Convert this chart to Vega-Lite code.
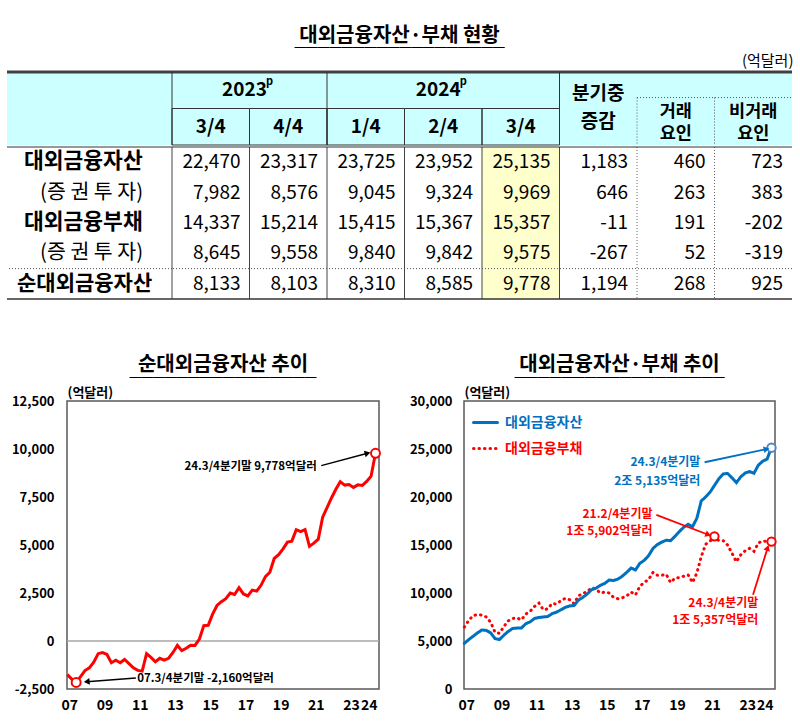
{
"$schema":"https://vega.github.io/schema/vega-lite/v6.json",
"background":"white",
"padding":{"left":5,"right":5,"top":26,"bottom":5},
"config":{"font":"Noto Sans CJK KR","view":{"stroke":null},"locale":{"number":{"decimal":".","thousands":",","grouping":[3],"currency":["$",""],"minus":"-"}}},
"title":{"text":"대외금융자산·부채 현황","subtitle":"‾‾‾‾‾‾‾‾‾‾‾‾‾‾‾‾‾‾","fontSize":20,"fontWeight":"bold","color":"black","subtitleFont":"DejaVu Sans Mono","subtitleFontSize":19.4,"subtitleColor":"black","subtitlePadding":1,"anchor":"middle","offset":-12},
"resolve":{"scale":{"color":"independent","strokeDash":"independent"},"legend":{"color":"independent","strokeDash":"independent"}},
"datasets":{
"cols":[{"c":"23.3/4"},{"c":"23.4/4"},{"c":"24.1/4"},{"c":"24.2/4"},{"c":"24.3/4"},{"c":"증감"},{"c":"거래"},{"c":"비거래"}],
"quarters":[{"c":"23.3/4","q":"3/4"},{"c":"23.4/4","q":"4/4"},{"c":"24.1/4","q":"1/4"},{"c":"24.2/4","q":"2/4"},{"c":"24.3/4","q":"3/4"}],
"labels":[{"r":"자산","label":"대외금융자산"},{"r":"자산증권","label":"(증 권 투 자)"},{"r":"부채","label":"대외금융부채"},{"r":"부채증권","label":"(증 권 투 자)"},{"r":"순자산","label":"순대외금융자산"}],
"cells":[
{"r":"자산","c":"23.3/4","v":22470},{"r":"자산","c":"23.4/4","v":23317},{"r":"자산","c":"24.1/4","v":23725},{"r":"자산","c":"24.2/4","v":23952},{"r":"자산","c":"24.3/4","v":25135},{"r":"자산","c":"증감","v":1183},{"r":"자산","c":"거래","v":460},{"r":"자산","c":"비거래","v":723},
{"r":"자산증권","c":"23.3/4","v":7982},{"r":"자산증권","c":"23.4/4","v":8576},{"r":"자산증권","c":"24.1/4","v":9045},{"r":"자산증권","c":"24.2/4","v":9324},{"r":"자산증권","c":"24.3/4","v":9969},{"r":"자산증권","c":"증감","v":646},{"r":"자산증권","c":"거래","v":263},{"r":"자산증권","c":"비거래","v":383},
{"r":"부채","c":"23.3/4","v":14337},{"r":"부채","c":"23.4/4","v":15214},{"r":"부채","c":"24.1/4","v":15415},{"r":"부채","c":"24.2/4","v":15367},{"r":"부채","c":"24.3/4","v":15357},{"r":"부채","c":"증감","v":-11},{"r":"부채","c":"거래","v":191},{"r":"부채","c":"비거래","v":-202},
{"r":"부채증권","c":"23.3/4","v":8645},{"r":"부채증권","c":"23.4/4","v":9558},{"r":"부채증권","c":"24.1/4","v":9840},{"r":"부채증권","c":"24.2/4","v":9842},{"r":"부채증권","c":"24.3/4","v":9575},{"r":"부채증권","c":"증감","v":-267},{"r":"부채증권","c":"거래","v":52},{"r":"부채증권","c":"비거래","v":-319},
{"r":"순자산","c":"23.3/4","v":8133},{"r":"순자산","c":"23.4/4","v":8103},{"r":"순자산","c":"24.1/4","v":8310},{"r":"순자산","c":"24.2/4","v":8585},{"r":"순자산","c":"24.3/4","v":9778},{"r":"순자산","c":"증감","v":1194},{"r":"순자산","c":"거래","v":268},{"r":"순자산","c":"비거래","v":925}],
"series":[
{"t":2007.00,"대외금융자산":4750,"대외금융부채":6450,"순대외금융자산":-1750},
{"t":2007.25,"대외금융자산":5150,"대외금융부채":7150,"순대외금융자산":-1980},
{"t":2007.50,"대외금융자산":5490,"대외금융부채":7650,"순대외금융자산":-2160},
{"t":2007.75,"대외금융자산":5850,"대외금융부채":7750,"순대외금융자산":-1850},
{"t":2008.00,"대외금융자산":6150,"대외금융부채":7700,"순대외금융자산":-1540},
{"t":2008.25,"대외금융자산":6100,"대외금융부채":7500,"순대외금융자산":-1400},
{"t":2008.50,"대외금융자산":5850,"대외금융부채":6950,"순대외금융자산":-1100},
{"t":2008.75,"대외금융자산":5250,"대외금융부채":5900,"순대외금융자산":-660},
{"t":2009.00,"대외금융자산":5150,"대외금융부채":5800,"순대외금융자산":-600},
{"t":2009.25,"대외금융자산":5600,"대외금융부채":6500,"순대외금융자산":-700},
{"t":2009.50,"대외금융자산":6000,"대외금융부채":7100,"순대외금융자산":-1130},
{"t":2009.75,"대외금융자산":6300,"대외금융부채":7350,"순대외금융자산":-1000},
{"t":2010.00,"대외금융자산":6350,"대외금융부채":7400,"순대외금융자산":-1130},
{"t":2010.25,"대외금융자산":6350,"대외금융부채":7200,"순대외금융자산":-960},
{"t":2010.50,"대외금융자산":6800,"대외금융부채":7800,"순대외금융자산":-1180},
{"t":2010.75,"대외금융자산":7000,"대외금융부채":8100,"순대외금융자산":-1400},
{"t":2011.00,"대외금융자산":7350,"대외금융부채":8600,"순대외금융자산":-1530},
{"t":2011.25,"대외금융자산":7450,"대외금융부채":8950,"순대외금융자산":-1570},
{"t":2011.50,"대외금융자산":7500,"대외금융부채":8250,"순대외금융자산":-660},
{"t":2011.75,"대외금융자산":7550,"대외금융부채":8350,"순대외금융자산":-850},
{"t":2012.00,"대외금융자산":7850,"대외금융부채":8900,"순대외금융자산":-1080},
{"t":2012.25,"대외금융자산":8000,"대외금융부채":8850,"순대외금융자산":-900},
{"t":2012.50,"대외금융자산":8250,"대외금융부채":9200,"순대외금융자산":-1000},
{"t":2012.75,"대외금융자산":8500,"대외금융부채":9450,"순대외금융자산":-900},
{"t":2013.00,"대외금융자산":8650,"대외금융부채":9300,"순대외금융자산":-600},
{"t":2013.25,"대외금융자산":8700,"대외금융부채":8900,"순대외금융자산":-230},
{"t":2013.50,"대외금융자산":9250,"대외금융부채":9700,"순대외금융자산":-500},
{"t":2013.75,"대외금융자산":9550,"대외금융부채":9950,"순대외금융자산":-380},
{"t":2014.00,"대외금융자산":9900,"대외금융부채":10150,"순대외금융자산":-220},
{"t":2014.25,"대외금융자산":10350,"대외금융부채":10550,"순대외금융자산":-230},
{"t":2014.50,"대외금융자산":10500,"대외금융부채":10400,"순대외금융자산":100},
{"t":2014.75,"대외금융자산":10800,"대외금융부채":10000,"순대외금융자산":800},
{"t":2015.00,"대외금융자산":11000,"대외금융부채":10100,"순대외금융자산":820},
{"t":2015.25,"대외금융자산":11350,"대외금융부채":10000,"순대외금융자산":1400},
{"t":2015.50,"대외금융자산":11300,"대외금융부채":9550,"순대외금융자산":1850},
{"t":2015.75,"대외금융자산":11450,"대외금융부채":9400,"순대외금융자산":2050},
{"t":2016.00,"대외금융자산":11750,"대외금융부채":9500,"순대외금융자산":2200},
{"t":2016.25,"대외금융자산":12150,"대외금융부채":9700,"순대외금융자산":2500},
{"t":2016.50,"대외금융자산":12600,"대외금융부채":10100,"순대외금융자산":2420},
{"t":2016.75,"대외금융자산":12400,"대외금융부채":9800,"순대외금융자산":2780},
{"t":2017.00,"대외금융자산":13100,"대외금융부채":10700,"순대외금융자산":2450},
{"t":2017.25,"대외금융자산":13400,"대외금융부채":11100,"순대외금융자산":2350},
{"t":2017.50,"대외금융자산":13900,"대외금융부채":11400,"순대외금융자산":2650},
{"t":2017.75,"대외금융자산":14650,"대외금융부채":12150,"순대외금융자산":2600},
{"t":2018.00,"대외금융자산":15050,"대외금융부채":11850,"순대외금융자산":2900},
{"t":2018.25,"대외금융자산":15300,"대외금융부채":11850,"순대외금융자산":3350},
{"t":2018.50,"대외금융자산":15500,"대외금융부채":11950,"순대외금융자산":3580},
{"t":2018.75,"대외금융자산":15450,"대외금융부채":11100,"순대외금융자산":4300},
{"t":2019.00,"대외금융자산":15900,"대외금융부채":11550,"순대외금융자산":4500},
{"t":2019.25,"대외금융자산":16400,"대외금융부채":11600,"순대외금융자산":4800},
{"t":2019.50,"대외금융자산":16850,"대외금융부채":11750,"순대외금융자산":5150},
{"t":2019.75,"대외금융자산":17150,"대외금융부채":11900,"순대외금융자산":5200},
{"t":2020.00,"대외금융자산":16900,"대외금융부채":11100,"순대외금융자산":5800},
{"t":2020.25,"대외금융자산":17800,"대외금융부채":12100,"순대외금융자산":5700},
{"t":2020.50,"대외금융자산":19600,"대외금융부채":13800,"순대외금융자산":5800},
{"t":2020.75,"대외금융자산":20000,"대외금융부채":15070,"순대외금융자산":4930},
{"t":2021.00,"대외금융자산":20500,"대외금융부채":15400,"순대외금융자산":5100},
{"t":2021.25,"대외금융자산":21200,"대외금융부채":15902,"순대외금융자산":5300},
{"t":2021.50,"대외금융자산":21900,"대외금융부채":15450,"순대외금융자산":6450},
{"t":2021.75,"대외금융자산":22400,"대외금융부채":15450,"순대외금융자산":6950},
{"t":2022.00,"대외금융자산":22450,"대외금융부채":15000,"순대외금융자산":7450},
{"t":2022.25,"대외금융자산":22000,"대외금융부채":14150,"순대외금융자산":7900},
{"t":2022.50,"대외금융자산":21500,"대외금융부채":13250,"순대외금융자산":8300},
{"t":2022.75,"대외금융자산":22100,"대외금융부채":13980,"순대외금융자산":8120},
{"t":2023.00,"대외금융자산":22500,"대외금융부채":14400,"순대외금융자산":8150},
{"t":2023.25,"대외금융자산":22650,"대외금융부채":14650,"순대외금융자산":8000},
{"t":2023.50,"대외금융자산":22470,"대외금융부채":14337,"순대외금융자산":8133},
{"t":2023.75,"대외금융자산":23317,"대외금융부채":15214,"순대외금융자산":8103},
{"t":2024.00,"대외금융자산":23725,"대외금융부채":15415,"순대외금융자산":8310},
{"t":2024.25,"대외금융자산":23952,"대외금융부채":15367,"순대외금융자산":8585},
{"t":2024.50,"대외금융자산":25135,"대외금융부채":15357,"순대외금융자산":9778}],
"leftNotes":[{"id":"hi","t":2021.17,"v":9080,"text":"24.3/4분기말  9,778억달러"},{"id":"lo","t":2010.97,"v":-1955,"text":"07.3/4분기말  -2,160억달러"}],
"leftArrows":[{"id":"hi","t1":2021.42,"v1":9135,"t2":2024.05,"v2":9780},{"id":"lo","t1":2010.89,"v1":-1925,"t2":2008.1,"v2":-2120}],
"rightNotes":[{"g":"A","t":2020.45,"v":23620,"text":"24.3/4분기말"},{"g":"A","t":2020.45,"v":21680,"text":"2조 5,135억달러"},{"g":"L","t":2017.72,"v":18240,"text":"21.2/4분기말"},{"g":"L","t":2017.72,"v":16470,"text":"1조 5,902억달러"},{"g":"L","t":2023.75,"v":9010,"text":"24.3/4분기말"},{"g":"L","t":2023.75,"v":7210,"text":"1조 5,357억달러"}],
"rightArrows":[{"id":"A","t1":2020.69,"v1":23620,"t2":2024.22,"v2":24990},{"id":"L1","t1":2017.94,"v1":18140,"t2":2020.9,"v2":16070},{"id":"L2","t1":2023.45,"v1":9810,"t2":2024.28,"v2":14700}]
},
"vconcat":[
{"title":{"text":"(억달러)","anchor":"end","fontSize":15,"fontWeight":"normal","color":"black","offset":2},
 "spacing":0,
 "vconcat":[
  {"spacing":0,"bounds":"flush","hconcat":[
   {"width":165,"height":73,"view":{"fill":"#CCFFFF","stroke":null},
    "data":{"values":[{}]},
    "mark":{"type":"rule","stroke":"#404040","strokeWidth":3},
    "encoding":{"y":{"datum":"h1","type":"nominal","bandPosition":0,"scale":{"type":"band","domain":["h1","h2"],"paddingInner":0,"paddingOuter":0},"axis":null}}},
   {"width":620,"height":73,"view":{"fill":"#CCFFFF","stroke":null},
    "layer":[
     {"data":{"name":"quarters"},"mark":{"type":"rect","fill":"transparent","stroke":"#333333","strokeWidth":1},
      "encoding":{"x":{"field":"c","type":"nominal","scale":{"type":"band","domain":["23.3/4","23.4/4","24.1/4","24.2/4","24.3/4","증감","거래","비거래"],"paddingInner":0,"paddingOuter":0},"axis":null},
                  "y":{"datum":"h2","type":"nominal","scale":{"type":"band","domain":["h1","h2"],"paddingInner":0,"paddingOuter":0},"axis":null}}},
     {"data":{"values":[{}]},"mark":{"type":"rule","stroke":"#404040","strokeWidth":3},
      "encoding":{"y":{"datum":"h1","type":"nominal","bandPosition":0,"axis":null}}},
     {"data":{"name":"cols"},"transform":[{"filter":{"field":"c","oneOf":["23.3/4","24.1/4","증감"]}}],"mark":{"type":"rule","stroke":"#333333","strokeWidth":1},
      "encoding":{"x":{"field":"c","type":"nominal","bandPosition":0,"axis":null}}},
     {"data":{"name":"cols"},"transform":[{"filter":{"field":"c","oneOf":["거래","비거래"]}}],"mark":{"type":"rule","stroke":"#555555","strokeWidth":1,"strokeDash":[1,2]},
      "encoding":{"x":{"field":"c","type":"nominal","bandPosition":0,"axis":null},"y":{"datum":"h1","type":"nominal","bandPosition":0.7,"axis":null},"y2":{"datum":"h2","bandPosition":1}}},
     {"data":{"values":[{}]},"mark":{"type":"rule","stroke":"#555555","strokeWidth":1,"strokeDash":[1,2]},
      "encoding":{"x":{"datum":"거래","type":"nominal","bandPosition":0,"axis":null},"x2":{"datum":"비거래","bandPosition":1},"y":{"datum":"h1","type":"nominal","bandPosition":0.7,"axis":null}}},
     {"data":{"values":[{}]},"mark":{"type":"text","text":"2023","fontSize":19,"fontWeight":"bold","dx":-5},
      "encoding":{"x":{"datum":"23.3/4","type":"nominal","bandPosition":1,"axis":null},"y":{"datum":"h1","type":"nominal","axis":null}}},
     {"data":{"values":[{}]},"mark":{"type":"text","text":"p","fontSize":11,"fontWeight":"bold","dx":20,"dy":-8},
      "encoding":{"x":{"datum":"23.3/4","type":"nominal","bandPosition":1,"axis":null},"y":{"datum":"h1","type":"nominal","axis":null}}},
     {"data":{"values":[{}]},"mark":{"type":"text","text":"2024","fontSize":19,"fontWeight":"bold","dx":-5},
      "encoding":{"x":{"datum":"24.2/4","type":"nominal","axis":null},"y":{"datum":"h1","type":"nominal","axis":null}}},
     {"data":{"values":[{}]},"mark":{"type":"text","text":"p","fontSize":11,"fontWeight":"bold","dx":20,"dy":-8},
      "encoding":{"x":{"datum":"24.2/4","type":"nominal","axis":null},"y":{"datum":"h1","type":"nominal","axis":null}}},
     {"data":{"name":"quarters"},"mark":{"type":"text","fontSize":19,"fontWeight":"bold"},
      "encoding":{"x":{"field":"c","type":"nominal","axis":null},"y":{"datum":"h2","type":"nominal","axis":null},"text":{"field":"q"}}},
     {"data":{"values":[{}]},"mark":{"type":"text","text":"분기중","fontSize":19,"fontWeight":"bold"},
      "encoding":{"x":{"datum":"증감","type":"nominal","axis":null},"y":{"datum":"h1","type":"nominal","bandPosition":0.6,"axis":null}}},
     {"data":{"values":[{}]},"mark":{"type":"text","text":"증감","fontSize":19,"fontWeight":"bold"},
      "encoding":{"x":{"datum":"증감","type":"nominal","axis":null},"y":{"datum":"h2","type":"nominal","bandPosition":0.36,"axis":null}}},
     {"data":{"values":[{}]},"mark":{"type":"text","text":"거래","fontSize":17.5,"fontWeight":"bold"},
      "encoding":{"x":{"datum":"거래","type":"nominal","axis":null},"y":{"datum":"h2","type":"nominal","bandPosition":0.1,"axis":null}}},
     {"data":{"values":[{}]},"mark":{"type":"text","text":"요인","fontSize":17.5,"fontWeight":"bold"},
      "encoding":{"x":{"datum":"거래","type":"nominal","axis":null},"y":{"datum":"h2","type":"nominal","bandPosition":0.71,"axis":null}}},
     {"data":{"values":[{}]},"mark":{"type":"text","text":"비거래","fontSize":17.5,"fontWeight":"bold"},
      "encoding":{"x":{"datum":"비거래","type":"nominal","axis":null},"y":{"datum":"h2","type":"nominal","bandPosition":0.1,"axis":null}}},
     {"data":{"values":[{}]},"mark":{"type":"text","text":"요인","fontSize":17.5,"fontWeight":"bold"},
      "encoding":{"x":{"datum":"비거래","type":"nominal","axis":null},"y":{"datum":"h2","type":"nominal","bandPosition":0.71,"axis":null}}}
    ]}
  ]},
  {"spacing":0,"bounds":"flush","hconcat":[
   {"width":165,"height":152,
    "layer":[
     {"data":{"values":[{}]},"mark":{"type":"rule","stroke":"#333333","strokeWidth":1.2},
      "encoding":{"y":{"datum":"자산","type":"nominal","bandPosition":0,"scale":{"type":"band","domain":["자산","자산증권","부채","부채증권","순자산"],"paddingInner":0,"paddingOuter":0},"axis":null}}},
     {"data":{"values":[{}]},"mark":{"type":"rule","stroke":"#555555","strokeWidth":1,"strokeDash":[1,2]},
      "encoding":{"y":{"datum":"순자산","type":"nominal","bandPosition":0,"axis":null}}},
     {"data":{"values":[{}]},"mark":{"type":"rule","stroke":"#333333","strokeWidth":1.5},
      "encoding":{"y":{"datum":"순자산","type":"nominal","bandPosition":1,"axis":null}}},
     {"data":{"name":"labels"},"transform":[{"filter":{"field":"r","oneOf":["자산","부채"]}}],"mark":{"type":"text","fontSize":21.5,"fontWeight":"bold","align":"left","dx":-65.5},
      "encoding":{"y":{"field":"r","type":"nominal","axis":null},"text":{"field":"label"}}},
     {"data":{"name":"labels"},"transform":[{"filter":{"field":"r","equal":"순자산"}}],"mark":{"type":"text","fontSize":21,"fontWeight":"bold","align":"left","dx":-72.5},
      "encoding":{"y":{"field":"r","type":"nominal","axis":null},"text":{"field":"label"}}},
     {"data":{"name":"labels"},"transform":[{"filter":{"field":"r","oneOf":["자산증권","부채증권"]}}],"mark":{"type":"text","fontSize":20.5,"align":"left","dx":-49.5},
      "encoding":{"y":{"field":"r","type":"nominal","axis":null},"text":{"field":"label"}}}
    ]},
   {"width":620,"height":152,
    "layer":[
     {"data":{"name":"cells"},"transform":[{"filter":"datum.c == '24.3/4'"}],"mark":{"type":"rect","fill":"#FFFFCC"},
      "encoding":{"x":{"field":"c","type":"nominal","scale":{"type":"band","domain":["23.3/4","23.4/4","24.1/4","24.2/4","24.3/4","증감","거래","비거래"],"paddingInner":0,"paddingOuter":0},"axis":null},
                  "y":{"field":"r","type":"nominal","scale":{"type":"band","domain":["자산","자산증권","부채","부채증권","순자산"],"paddingInner":0,"paddingOuter":0},"axis":null}}},
     {"data":{"name":"cols"},"transform":[{"filter":{"not":{"field":"c","oneOf":["거래","비거래"]}}}],"mark":{"type":"rule","stroke":"#444444","strokeWidth":1},
      "encoding":{"x":{"field":"c","type":"nominal","bandPosition":0,"axis":null}}},
     {"data":{"name":"cols"},"transform":[{"filter":{"field":"c","oneOf":["거래","비거래"]}}],"mark":{"type":"rule","stroke":"#666666","strokeWidth":1,"strokeDash":[1,2]},
      "encoding":{"x":{"field":"c","type":"nominal","bandPosition":0,"axis":null}}},
     {"data":{"values":[{}]},"mark":{"type":"rule","stroke":"#333333","strokeWidth":1.2},
      "encoding":{"y":{"datum":"자산","type":"nominal","bandPosition":0,"axis":null}}},
     {"data":{"values":[{}]},"mark":{"type":"rule","stroke":"#555555","strokeWidth":1,"strokeDash":[1,2]},
      "encoding":{"y":{"datum":"순자산","type":"nominal","bandPosition":0,"axis":null}}},
     {"data":{"values":[{}]},"mark":{"type":"rule","stroke":"#333333","strokeWidth":1.5},
      "encoding":{"y":{"datum":"순자산","type":"nominal","bandPosition":1,"axis":null}}},
     {"data":{"name":"cells"},"mark":{"type":"text","fontSize":19,"align":"right","dx":-9},
      "encoding":{"x":{"field":"c","type":"nominal","bandPosition":1,"axis":null},"y":{"field":"r","type":"nominal","axis":null},"text":{"field":"v","type":"quantitative","format":","}}}
    ]}
  ]}
 ]},
{"spacing":0,
 "resolve":{"scale":{"color":"independent","strokeDash":"independent"},"legend":{"color":"independent","strokeDash":"independent"}},
 "hconcat":[
 {"width":3,"height":10,"data":{"values":[]},"mark":"point"},
 {"spacing":23,
 "resolve":{"scale":{"color":"independent","strokeDash":"independent"},"legend":{"color":"independent","strokeDash":"independent"}},
 "hconcat":[
 {"width":312,"height":288,
  "title":{"text":"순대외금융자산 추이","subtitle":"‾‾‾‾‾‾‾‾‾‾‾‾‾‾‾‾","fontSize":20,"fontWeight":"bold","color":"black","subtitleFont":"DejaVu Sans Mono","subtitleFontSize":19.4,"subtitleColor":"black","subtitlePadding":2,"anchor":"middle","frame":"group","offset":-9},
  "view":{"stroke":"#595959","strokeWidth":1.5},
  "layer":[
   {"data":{"values":[{}]},"mark":{"type":"rule","stroke":"#A6A6A6","strokeWidth":1.5},
    "encoding":{"y":{"datum":0,"type":"quantitative","scale":{"domain":[-2500,12500],"nice":false,"zero":false},
       "axis":{"values":[-2500,0,2500,5000,7500,10000,12500],"format":",d","title":"(억달러)","titleAngle":0,"titleAlign":"left","titleBaseline":"alphabetic","titleX":0,"titleY":-5,"titleFontSize":13,"titleFontWeight":"bold","titleColor":"black","grid":false,"ticks":false,"domain":false,"labelFontSize":13,"labelFontWeight":"bold","labelColor":"black","labelPadding":13,"labelOverlap":false}}}},
   {"data":{"name":"series"},"mark":{"type":"line","stroke":"#FF0000","strokeWidth":3},
    "encoding":{"x":{"field":"t","type":"quantitative","scale":{"domain":[2006.98,2024.7],"nice":false,"zero":false},
       "axis":{"values":[2007,2009,2011,2013,2015,2017,2019,2021,2023,2024],"labelExpr":"substring(toString(datum.value),2,4)","title":null,"grid":false,"ticks":false,"domain":false,"labelFontSize":14,"labelFontWeight":"bold","labelColor":"black","labelPadding":9,"labelOverlap":false,"labelFlush":false,"labelOffset":2}},
     "y":{"field":"순대외금융자산","type":"quantitative","scale":{"domain":[-2500,12500],"nice":false,"zero":false},
       "axis":{"values":[-2500,0,2500,5000,7500,10000,12500],"format":",d","title":"(억달러)","titleAngle":0,"titleAlign":"left","titleBaseline":"alphabetic","titleX":0,"titleY":-5,"titleFontSize":13,"titleFontWeight":"bold","titleColor":"black","grid":false,"ticks":false,"domain":false,"labelFontSize":13,"labelFontWeight":"bold","labelColor":"black","labelPadding":13,"labelOverlap":false}}}},
   {"data":{"name":"series"},"transform":[{"filter":"datum.t == 2007.5 || datum.t == 2024.5"}],"mark":{"type":"point","shape":"circle","filled":true,"fill":"white","stroke":"#FF0000","strokeWidth":2,"size":80,"opacity":1},
    "encoding":{"x":{"field":"t","type":"quantitative","scale":{"domain":[2006.98,2024.7],"nice":false,"zero":false},
       "axis":{"values":[2007,2009,2011,2013,2015,2017,2019,2021,2023,2024],"labelExpr":"substring(toString(datum.value),2,4)","title":null,"grid":false,"ticks":false,"domain":false,"labelFontSize":14,"labelFontWeight":"bold","labelColor":"black","labelPadding":9,"labelOverlap":false,"labelFlush":false,"labelOffset":2}},
     "y":{"field":"순대외금융자산","type":"quantitative","scale":{"domain":[-2500,12500],"nice":false,"zero":false},
       "axis":{"values":[-2500,0,2500,5000,7500,10000,12500],"format":",d","title":"(억달러)","titleAngle":0,"titleAlign":"left","titleBaseline":"alphabetic","titleX":0,"titleY":-5,"titleFontSize":13,"titleFontWeight":"bold","titleColor":"black","grid":false,"ticks":false,"domain":false,"labelFontSize":13,"labelFontWeight":"bold","labelColor":"black","labelPadding":13,"labelOverlap":false}}}},
   {"data":{"name":"leftArrows"},"mark":{"type":"rule","stroke":"black","strokeWidth":1.5},
    "encoding":{"x":{"field":"t1","type":"quantitative","scale":{"domain":[2006.98,2024.7],"nice":false,"zero":false},
       "axis":{"values":[2007,2009,2011,2013,2015,2017,2019,2021,2023,2024],"labelExpr":"substring(toString(datum.value),2,4)","title":null,"grid":false,"ticks":false,"domain":false,"labelFontSize":14,"labelFontWeight":"bold","labelColor":"black","labelPadding":9,"labelOverlap":false,"labelFlush":false,"labelOffset":2}},
     "x2":{"field":"t2"},
     "y":{"field":"v1","type":"quantitative","scale":{"domain":[-2500,12500],"nice":false,"zero":false},
       "axis":{"values":[-2500,0,2500,5000,7500,10000,12500],"format":",d","title":"(억달러)","titleAngle":0,"titleAlign":"left","titleBaseline":"alphabetic","titleX":0,"titleY":-5,"titleFontSize":13,"titleFontWeight":"bold","titleColor":"black","grid":false,"ticks":false,"domain":false,"labelFontSize":13,"labelFontWeight":"bold","labelColor":"black","labelPadding":13,"labelOverlap":false}},
     "y2":{"field":"v2"}}},
   {"data":{"name":"leftArrows"},"transform":[{"filter":"datum.id == 'hi'"}],"mark":{"type":"point","shape":"triangle-right","filled":true,"color":"black","size":45,"angle":345,"opacity":1},
    "encoding":{"x":{"field":"t2","type":"quantitative","scale":{"domain":[2006.98,2024.7],"nice":false,"zero":false},
       "axis":{"values":[2007,2009,2011,2013,2015,2017,2019,2021,2023,2024],"labelExpr":"substring(toString(datum.value),2,4)","title":null,"grid":false,"ticks":false,"domain":false,"labelFontSize":14,"labelFontWeight":"bold","labelColor":"black","labelPadding":9,"labelOverlap":false,"labelFlush":false,"labelOffset":2}},
     "y":{"field":"v2","type":"quantitative","scale":{"domain":[-2500,12500],"nice":false,"zero":false},
       "axis":{"values":[-2500,0,2500,5000,7500,10000,12500],"format":",d","title":"(억달러)","titleAngle":0,"titleAlign":"left","titleBaseline":"alphabetic","titleX":0,"titleY":-5,"titleFontSize":13,"titleFontWeight":"bold","titleColor":"black","grid":false,"ticks":false,"domain":false,"labelFontSize":13,"labelFontWeight":"bold","labelColor":"black","labelPadding":13,"labelOverlap":false}}}},
   {"data":{"name":"leftArrows"},"transform":[{"filter":"datum.id == 'lo'"}],"mark":{"type":"point","shape":"triangle-right","filled":true,"color":"black","size":45,"angle":175,"opacity":1},
    "encoding":{"x":{"field":"t2","type":"quantitative","scale":{"domain":[2006.98,2024.7],"nice":false,"zero":false},
       "axis":{"values":[2007,2009,2011,2013,2015,2017,2019,2021,2023,2024],"labelExpr":"substring(toString(datum.value),2,4)","title":null,"grid":false,"ticks":false,"domain":false,"labelFontSize":14,"labelFontWeight":"bold","labelColor":"black","labelPadding":9,"labelOverlap":false,"labelFlush":false,"labelOffset":2}},
     "y":{"field":"v2","type":"quantitative","scale":{"domain":[-2500,12500],"nice":false,"zero":false},
       "axis":{"values":[-2500,0,2500,5000,7500,10000,12500],"format":",d","title":"(억달러)","titleAngle":0,"titleAlign":"left","titleBaseline":"alphabetic","titleX":0,"titleY":-5,"titleFontSize":13,"titleFontWeight":"bold","titleColor":"black","grid":false,"ticks":false,"domain":false,"labelFontSize":13,"labelFontWeight":"bold","labelColor":"black","labelPadding":13,"labelOverlap":false}}}},
   {"data":{"name":"leftNotes"},"transform":[{"filter":"datum.id == 'hi'"}],"mark":{"type":"text","align":"right","fontSize":11.5,"fontWeight":"bold","color":"black"},
    "encoding":{"x":{"field":"t","type":"quantitative","scale":{"domain":[2006.98,2024.7],"nice":false,"zero":false},
       "axis":{"values":[2007,2009,2011,2013,2015,2017,2019,2021,2023,2024],"labelExpr":"substring(toString(datum.value),2,4)","title":null,"grid":false,"ticks":false,"domain":false,"labelFontSize":14,"labelFontWeight":"bold","labelColor":"black","labelPadding":9,"labelOverlap":false,"labelFlush":false,"labelOffset":2}},
     "y":{"field":"v","type":"quantitative","scale":{"domain":[-2500,12500],"nice":false,"zero":false},
       "axis":{"values":[-2500,0,2500,5000,7500,10000,12500],"format":",d","title":"(억달러)","titleAngle":0,"titleAlign":"left","titleBaseline":"alphabetic","titleX":0,"titleY":-5,"titleFontSize":13,"titleFontWeight":"bold","titleColor":"black","grid":false,"ticks":false,"domain":false,"labelFontSize":13,"labelFontWeight":"bold","labelColor":"black","labelPadding":13,"labelOverlap":false}},
     "text":{"field":"text"}}},
   {"data":{"name":"leftNotes"},"transform":[{"filter":"datum.id == 'lo'"}],"mark":{"type":"text","align":"left","fontSize":11.5,"fontWeight":"bold","color":"black"},
    "encoding":{"x":{"field":"t","type":"quantitative","scale":{"domain":[2006.98,2024.7],"nice":false,"zero":false},
       "axis":{"values":[2007,2009,2011,2013,2015,2017,2019,2021,2023,2024],"labelExpr":"substring(toString(datum.value),2,4)","title":null,"grid":false,"ticks":false,"domain":false,"labelFontSize":14,"labelFontWeight":"bold","labelColor":"black","labelPadding":9,"labelOverlap":false,"labelFlush":false,"labelOffset":2}},
     "y":{"field":"v","type":"quantitative","scale":{"domain":[-2500,12500],"nice":false,"zero":false},
       "axis":{"values":[-2500,0,2500,5000,7500,10000,12500],"format":",d","title":"(억달러)","titleAngle":0,"titleAlign":"left","titleBaseline":"alphabetic","titleX":0,"titleY":-5,"titleFontSize":13,"titleFontWeight":"bold","titleColor":"black","grid":false,"ticks":false,"domain":false,"labelFontSize":13,"labelFontWeight":"bold","labelColor":"black","labelPadding":13,"labelOverlap":false}},
     "text":{"field":"text"}}}
  ]},
 {"width":311,"height":288,
  "title":{"text":"대외금융자산·부채 추이","subtitle":"‾‾‾‾‾‾‾‾‾‾‾‾‾‾‾‾‾‾","fontSize":20,"fontWeight":"bold","color":"black","subtitleFont":"DejaVu Sans Mono","subtitleFontSize":19.4,"subtitleColor":"black","subtitlePadding":2,"anchor":"middle","frame":"group","offset":-9},
  "view":{"stroke":"#595959","strokeWidth":1.5},
  "layer":[
   {"data":{"name":"series"},"transform":[{"fold":["대외금융부채","대외금융자산"],"as":["s","val"]}],
    "mark":{"type":"line","strokeWidth":3,"strokeCap":"round"},
    "encoding":{"x":{"field":"t","type":"quantitative","scale":{"domain":[2006.98,2024.7],"nice":false,"zero":false},
       "axis":{"values":[2007,2009,2011,2013,2015,2017,2019,2021,2023,2024],"labelExpr":"substring(toString(datum.value),2,4)","title":null,"grid":false,"ticks":false,"domain":false,"labelFontSize":14,"labelFontWeight":"bold","labelColor":"black","labelPadding":9,"labelOverlap":false,"labelFlush":false,"labelOffset":2}},
     "y":{"field":"val","type":"quantitative","scale":{"domain":[0,30000],"nice":false},
       "axis":{"values":[0,5000,10000,15000,20000,25000,30000],"format":",d","title":"(억달러)","titleAngle":0,"titleAlign":"left","titleBaseline":"alphabetic","titleX":0,"titleY":-5,"titleFontSize":13,"titleFontWeight":"bold","titleColor":"black","grid":false,"ticks":false,"domain":false,"labelFontSize":13,"labelFontWeight":"bold","labelColor":"black","labelPadding":12,"labelOverlap":false}},
     "color":{"field":"s","type":"nominal","scale":{"domain":["대외금융자산","대외금융부채"],"range":["#0070C0","#FF0000"]},
       "legend":{"title":null,"orient":"none","legendX":8,"legendY":8,"padding":0,"symbolType":"stroke","symbolSize":576,"symbolStrokeWidth":3,"labelFontSize":14,"labelFontWeight":"bold","labelOffset":6,"rowPadding":5,
         "encode":{"labels":{"update":{"fill":{"signal":"datum.value === '대외금융자산' ? '#0070C0' : '#FF0000'"}}},"symbols":{"update":{"strokeCap":{"value":"round"}}}}}},
     "strokeDash":{"field":"s","type":"nominal","scale":{"domain":["대외금융자산","대외금융부채"],"range":[[1,0],[0.5,5]]},"legend":{"title":null,"orient":"none","legendX":8,"legendY":8}}}},
   {"data":{"name":"series"},"transform":[{"filter":"datum.t == 2024.5"}],"mark":{"type":"point","shape":"circle","filled":true,"fill":"white","stroke":"#4A86C8","strokeWidth":2,"size":70,"opacity":1},
    "encoding":{"x":{"field":"t","type":"quantitative","scale":{"domain":[2006.98,2024.7],"nice":false,"zero":false},
       "axis":{"values":[2007,2009,2011,2013,2015,2017,2019,2021,2023,2024],"labelExpr":"substring(toString(datum.value),2,4)","title":null,"grid":false,"ticks":false,"domain":false,"labelFontSize":14,"labelFontWeight":"bold","labelColor":"black","labelPadding":9,"labelOverlap":false,"labelFlush":false,"labelOffset":2}},
     "y":{"field":"대외금융자산","type":"quantitative","scale":{"domain":[0,30000],"nice":false},
       "axis":{"values":[0,5000,10000,15000,20000,25000,30000],"format":",d","title":"(억달러)","titleAngle":0,"titleAlign":"left","titleBaseline":"alphabetic","titleX":0,"titleY":-5,"titleFontSize":13,"titleFontWeight":"bold","titleColor":"black","grid":false,"ticks":false,"domain":false,"labelFontSize":13,"labelFontWeight":"bold","labelColor":"black","labelPadding":12,"labelOverlap":false}}}},
   {"data":{"name":"series"},"transform":[{"filter":"datum.t == 2021.25 || datum.t == 2024.5"}],"mark":{"type":"point","shape":"circle","filled":true,"fill":"white","stroke":"#FF0000","strokeWidth":2,"size":70,"opacity":1},
    "encoding":{"x":{"field":"t","type":"quantitative","scale":{"domain":[2006.98,2024.7],"nice":false,"zero":false},
       "axis":{"values":[2007,2009,2011,2013,2015,2017,2019,2021,2023,2024],"labelExpr":"substring(toString(datum.value),2,4)","title":null,"grid":false,"ticks":false,"domain":false,"labelFontSize":14,"labelFontWeight":"bold","labelColor":"black","labelPadding":9,"labelOverlap":false,"labelFlush":false,"labelOffset":2}},
     "y":{"field":"대외금융부채","type":"quantitative","scale":{"domain":[0,30000],"nice":false},
       "axis":{"values":[0,5000,10000,15000,20000,25000,30000],"format":",d","title":"(억달러)","titleAngle":0,"titleAlign":"left","titleBaseline":"alphabetic","titleX":0,"titleY":-5,"titleFontSize":13,"titleFontWeight":"bold","titleColor":"black","grid":false,"ticks":false,"domain":false,"labelFontSize":13,"labelFontWeight":"bold","labelColor":"black","labelPadding":12,"labelOverlap":false}}}},
   {"data":{"name":"rightArrows"},"transform":[{"filter":"datum.id == 'A'"}],"mark":{"type":"rule","stroke":"#0070C0","strokeWidth":1.8},
    "encoding":{"x":{"field":"t1","type":"quantitative","scale":{"domain":[2006.98,2024.7],"nice":false,"zero":false},
       "axis":{"values":[2007,2009,2011,2013,2015,2017,2019,2021,2023,2024],"labelExpr":"substring(toString(datum.value),2,4)","title":null,"grid":false,"ticks":false,"domain":false,"labelFontSize":14,"labelFontWeight":"bold","labelColor":"black","labelPadding":9,"labelOverlap":false,"labelFlush":false,"labelOffset":2}},
     "x2":{"field":"t2"},
     "y":{"field":"v1","type":"quantitative","scale":{"domain":[0,30000],"nice":false},
       "axis":{"values":[0,5000,10000,15000,20000,25000,30000],"format":",d","title":"(억달러)","titleAngle":0,"titleAlign":"left","titleBaseline":"alphabetic","titleX":0,"titleY":-5,"titleFontSize":13,"titleFontWeight":"bold","titleColor":"black","grid":false,"ticks":false,"domain":false,"labelFontSize":13,"labelFontWeight":"bold","labelColor":"black","labelPadding":12,"labelOverlap":false}},
     "y2":{"field":"v2"}}},
   {"data":{"name":"rightArrows"},"transform":[{"filter":"datum.id != 'A'"}],"mark":{"type":"rule","stroke":"#FF0000","strokeWidth":1.8},
    "encoding":{"x":{"field":"t1","type":"quantitative","scale":{"domain":[2006.98,2024.7],"nice":false,"zero":false},
       "axis":{"values":[2007,2009,2011,2013,2015,2017,2019,2021,2023,2024],"labelExpr":"substring(toString(datum.value),2,4)","title":null,"grid":false,"ticks":false,"domain":false,"labelFontSize":14,"labelFontWeight":"bold","labelColor":"black","labelPadding":9,"labelOverlap":false,"labelFlush":false,"labelOffset":2}},
     "x2":{"field":"t2"},
     "y":{"field":"v1","type":"quantitative","scale":{"domain":[0,30000],"nice":false},
       "axis":{"values":[0,5000,10000,15000,20000,25000,30000],"format":",d","title":"(억달러)","titleAngle":0,"titleAlign":"left","titleBaseline":"alphabetic","titleX":0,"titleY":-5,"titleFontSize":13,"titleFontWeight":"bold","titleColor":"black","grid":false,"ticks":false,"domain":false,"labelFontSize":13,"labelFontWeight":"bold","labelColor":"black","labelPadding":12,"labelOverlap":false}},
     "y2":{"field":"v2"}}},
   {"data":{"name":"rightArrows"},"transform":[{"filter":"datum.id == 'A'"}],"mark":{"type":"point","shape":"triangle-right","filled":true,"color":"#0070C0","size":45,"angle":348,"opacity":1},
    "encoding":{"x":{"field":"t2","type":"quantitative","scale":{"domain":[2006.98,2024.7],"nice":false,"zero":false},
       "axis":{"values":[2007,2009,2011,2013,2015,2017,2019,2021,2023,2024],"labelExpr":"substring(toString(datum.value),2,4)","title":null,"grid":false,"ticks":false,"domain":false,"labelFontSize":14,"labelFontWeight":"bold","labelColor":"black","labelPadding":9,"labelOverlap":false,"labelFlush":false,"labelOffset":2}},
     "y":{"field":"v2","type":"quantitative","scale":{"domain":[0,30000],"nice":false},
       "axis":{"values":[0,5000,10000,15000,20000,25000,30000],"format":",d","title":"(억달러)","titleAngle":0,"titleAlign":"left","titleBaseline":"alphabetic","titleX":0,"titleY":-5,"titleFontSize":13,"titleFontWeight":"bold","titleColor":"black","grid":false,"ticks":false,"domain":false,"labelFontSize":13,"labelFontWeight":"bold","labelColor":"black","labelPadding":12,"labelOverlap":false}}}},
   {"data":{"name":"rightArrows"},"transform":[{"filter":"datum.id == 'L1'"}],"mark":{"type":"point","shape":"triangle-right","filled":true,"color":"#FF0000","size":45,"angle":21,"opacity":1},
    "encoding":{"x":{"field":"t2","type":"quantitative","scale":{"domain":[2006.98,2024.7],"nice":false,"zero":false},
       "axis":{"values":[2007,2009,2011,2013,2015,2017,2019,2021,2023,2024],"labelExpr":"substring(toString(datum.value),2,4)","title":null,"grid":false,"ticks":false,"domain":false,"labelFontSize":14,"labelFontWeight":"bold","labelColor":"black","labelPadding":9,"labelOverlap":false,"labelFlush":false,"labelOffset":2}},
     "y":{"field":"v2","type":"quantitative","scale":{"domain":[0,30000],"nice":false},
       "axis":{"values":[0,5000,10000,15000,20000,25000,30000],"format":",d","title":"(억달러)","titleAngle":0,"titleAlign":"left","titleBaseline":"alphabetic","titleX":0,"titleY":-5,"titleFontSize":13,"titleFontWeight":"bold","titleColor":"black","grid":false,"ticks":false,"domain":false,"labelFontSize":13,"labelFontWeight":"bold","labelColor":"black","labelPadding":12,"labelOverlap":false}}}},
   {"data":{"name":"rightArrows"},"transform":[{"filter":"datum.id == 'L2'"}],"mark":{"type":"point","shape":"triangle-right","filled":true,"color":"#FF0000","size":45,"angle":288,"opacity":1},
    "encoding":{"x":{"field":"t2","type":"quantitative","scale":{"domain":[2006.98,2024.7],"nice":false,"zero":false},
       "axis":{"values":[2007,2009,2011,2013,2015,2017,2019,2021,2023,2024],"labelExpr":"substring(toString(datum.value),2,4)","title":null,"grid":false,"ticks":false,"domain":false,"labelFontSize":14,"labelFontWeight":"bold","labelColor":"black","labelPadding":9,"labelOverlap":false,"labelFlush":false,"labelOffset":2}},
     "y":{"field":"v2","type":"quantitative","scale":{"domain":[0,30000],"nice":false},
       "axis":{"values":[0,5000,10000,15000,20000,25000,30000],"format":",d","title":"(억달러)","titleAngle":0,"titleAlign":"left","titleBaseline":"alphabetic","titleX":0,"titleY":-5,"titleFontSize":13,"titleFontWeight":"bold","titleColor":"black","grid":false,"ticks":false,"domain":false,"labelFontSize":13,"labelFontWeight":"bold","labelColor":"black","labelPadding":12,"labelOverlap":false}}}},
   {"data":{"name":"rightNotes"},"transform":[{"filter":"datum.g == 'A'"}],"mark":{"type":"text","align":"right","fontSize":12,"fontWeight":"bold","color":"#0070C0"},
    "encoding":{"x":{"field":"t","type":"quantitative","scale":{"domain":[2006.98,2024.7],"nice":false,"zero":false},
       "axis":{"values":[2007,2009,2011,2013,2015,2017,2019,2021,2023,2024],"labelExpr":"substring(toString(datum.value),2,4)","title":null,"grid":false,"ticks":false,"domain":false,"labelFontSize":14,"labelFontWeight":"bold","labelColor":"black","labelPadding":9,"labelOverlap":false,"labelFlush":false,"labelOffset":2}},
     "y":{"field":"v","type":"quantitative","scale":{"domain":[0,30000],"nice":false},
       "axis":{"values":[0,5000,10000,15000,20000,25000,30000],"format":",d","title":"(억달러)","titleAngle":0,"titleAlign":"left","titleBaseline":"alphabetic","titleX":0,"titleY":-5,"titleFontSize":13,"titleFontWeight":"bold","titleColor":"black","grid":false,"ticks":false,"domain":false,"labelFontSize":13,"labelFontWeight":"bold","labelColor":"black","labelPadding":12,"labelOverlap":false}},
     "text":{"field":"text"}}},
   {"data":{"name":"rightNotes"},"transform":[{"filter":"datum.g == 'L'"}],"mark":{"type":"text","align":"right","fontSize":12,"fontWeight":"bold","color":"#FF0000"},
    "encoding":{"x":{"field":"t","type":"quantitative","scale":{"domain":[2006.98,2024.7],"nice":false,"zero":false},
       "axis":{"values":[2007,2009,2011,2013,2015,2017,2019,2021,2023,2024],"labelExpr":"substring(toString(datum.value),2,4)","title":null,"grid":false,"ticks":false,"domain":false,"labelFontSize":14,"labelFontWeight":"bold","labelColor":"black","labelPadding":9,"labelOverlap":false,"labelFlush":false,"labelOffset":2}},
     "y":{"field":"v","type":"quantitative","scale":{"domain":[0,30000],"nice":false},
       "axis":{"values":[0,5000,10000,15000,20000,25000,30000],"format":",d","title":"(억달러)","titleAngle":0,"titleAlign":"left","titleBaseline":"alphabetic","titleX":0,"titleY":-5,"titleFontSize":13,"titleFontWeight":"bold","titleColor":"black","grid":false,"ticks":false,"domain":false,"labelFontSize":13,"labelFontWeight":"bold","labelColor":"black","labelPadding":12,"labelOverlap":false}},
     "text":{"field":"text"}}}
  ]}
]}
]}
],
"spacing":53
}
